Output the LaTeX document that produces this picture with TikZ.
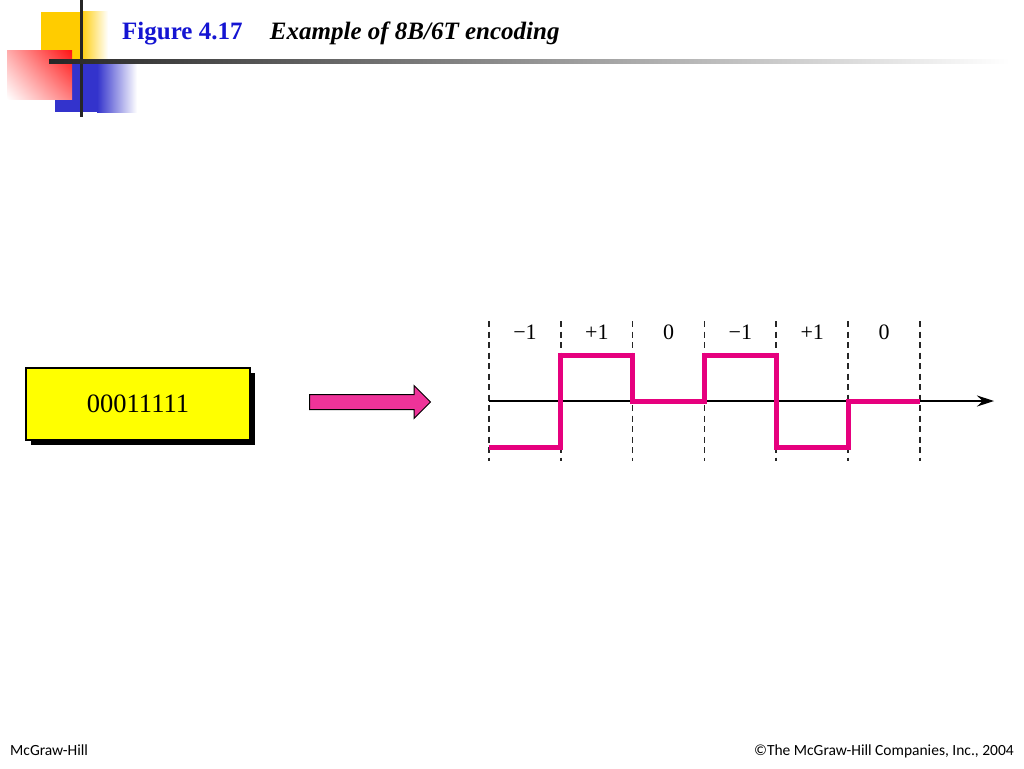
\documentclass[tikz,border=0pt]{standalone}
\usepackage{fontspec}
\setmainfont{Liberation Serif}
\newfontfamily\footfont{Carlito}
\usetikzlibrary{positioning}
\usetikzlibrary{shapes.arrows}
\usetikzlibrary{shadows}
\usetikzlibrary{shadings}
\usetikzlibrary{arrows.meta}
\definecolor{titleblue}{RGB}{20,20,210}
\definecolor{decoyellow}{RGB}{255,204,0}
\definecolor{decored}{RGB}{255,20,20}
\definecolor{decoblue}{RGB}{51,51,204}
\definecolor{signalpink}{RGB}{230,0,126}
\definecolor{arrowpink}{RGB}{238,51,153}
\definecolor{boxyellow}{RGB}{255,255,0}
\tikzset {
  % slide title parts
  fig title/.style = {
    inner sep = 0,
    font = \fontsize{25}{30}\selectfont\bfseries
  },
  % footer texts
  foot text/.style = {
    inner sep = 0,
    font = \footfont\fontsize{15.5}{18}\selectfont
  },
  % yellow box holding the data bits
  code box/.style = {
    draw = black,
    fill = boxyellow,
    line width = 1.2pt,
    minimum width = 224pt,
    minimum height = 72pt,
    font = \fontsize{26.5}{30}\selectfont,
    drop shadow = {shadow xshift = 5pt, shadow yshift = -5pt,
      fill = black, opacity = 1}
  },
  % thick arrow between box and signal
  conv arrow/.style = {
    single arrow,
    draw = black,
    fill = arrowpink,
    line width = 1pt,
    minimum height = 121pt,
    minimum width = 32pt,
    inner xsep = 0,
    inner ysep = 7pt,
    single arrow head extend = 9pt
  }
}
\tikzset {
  % dashed slot boundary
  slot line/.style = {
    draw = black!85,
    line width = 1.7pt,
    dash pattern = on 6pt off 4.5pt
  },
  % time axis
  axis/.style = {
    draw = black,
    line width = 1.2pt,
    -{Stealth[length = 17pt, width = 11pt]}
  },
  % the encoded signal
  signal/.style = {
    draw = signalpink,
    line width = 5pt,
    line join = miter
  },
  level label/.style = {
    inner sep = 0,
    font = \fontsize{22}{24}\selectfont
  }
}

\begin{document}
\begin{tikzpicture}[x = 1pt, y = -1pt]
  \useasboundingbox (0,0) rectangle (1024,768);

  % corner decoration
  \fill[decoyellow] (41,12) rectangle (80,62);
  \shade[left color = decoyellow, right color = white] (80,12) rectangle (108,62);
  \fill[decoblue] (55,63) rectangle (97,112);
  \shade[left color = decoblue, right color = white] (97,63) rectangle (137,112);
  \shade[upper right = decored, upper left = decored!35, lower right = decored!55,
    lower left = white] (7,51) rectangle (72,99);
  \fill[black!85] (79.5,0) rectangle (82.5,117);
  \shade[left color = black!85, middle color = black!45, right color = white]
    (49,59) rectangle (1010,63);

  % title
  \node[fig title, text = titleblue, anchor = base west] (fignum) at (122,40) {Figure 4.17};
  \node[fig title, base right = 27pt of fignum] (figname) {\itshape Example of 8B/6T encoding};

  % data bits and conversion arrow
  \node[code box] (bits) at (138,404) {00011111};
  \node[conv arrow, anchor = tail] (conv) at (309,402) {};

  % signal slots
  \foreach \i in {0,...,6}
    \coordinate (t\i) at (489+71.8*\i, 401);
  \coordinate (hi) at (0,355);
  \coordinate (lo) at (0,447);
  \coordinate (top) at (0,321);
  \coordinate (bottom) at (0,461);
  \coordinate (axisend) at (994,401);
  \foreach \i in {0,...,6}
    \draw[slot line] (t\i |- top) -- (t\i |- bottom);
  \foreach \lab [count = \i from 0] in {−1,+1,0,−1,+1,0}
    \node[level label] (lab\i) at (525+71.8*\i, 332) {\lab};

  \draw[axis] (t0) -- (axisend);
  \draw[signal] (t0 |- lo)
  -- (t1 |- lo)
  -- (t1 |- hi)
  -- (t2 |- hi)
  -- (t2)
  -- (t3)
  -- (t3 |- hi)
  -- (t4 |- hi)
  -- (t4 |- lo)
  -- (t5 |- lo)
  -- (t5)
  -- (t6);

  % footer
  \node[foot text, anchor = base west] (publisher) at (10,755) {McGraw-Hill};
  \node[foot text, anchor = base east] (copyright) at (1014,755) {©The McGraw-Hill Companies, Inc., 2004};
\end{tikzpicture}
\end{document}
